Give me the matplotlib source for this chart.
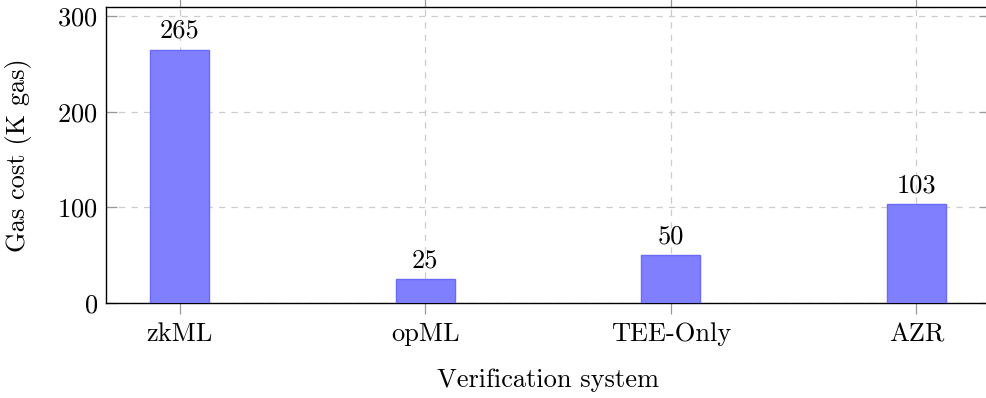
import matplotlib
matplotlib.use('Agg')
import matplotlib.pyplot as plt
import numpy as np

# ─── Data ─────────────────────────────────────────────────────────────
systems = ['zkML', 'opML', 'TEE-Only', 'AZR']
gas_cost = [265, 25, 50, 103]
y_ticks = [0, 100, 200, 300]

plt.rcParams.update({
    'font.family': 'serif',
    'font.serif': ['cmr10', 'DejaVu Serif'],
    'mathtext.fontset': 'cm',
    'axes.formatter.use_mathtext': True,
    'font.size': 19,
})

fig = plt.figure(figsize=(9.87, 3.98), dpi=100, facecolor='white')
# right spine sits just past the image edge, as in the reference
ax = fig.add_axes([106 / 987, 1 - 303 / 398, 884 / 987, 296.5 / 398])

x = np.arange(len(systems))
bars = ax.bar(x, gas_cost, width=0.24, color='#8080ff',
              edgecolor='#6a6aff', linewidth=1.0, zorder=3)

for xi, v in zip(x, gas_cost):
    ax.annotate(f"{v}", (xi, v), xytext=(0, 5), textcoords='offset points',
                ha='center', va='bottom', fontsize=19, zorder=4)

ax.set_xlim(-0.3, 3.3)
ax.set_ylim(0, 310)
ax.set_xticks(x)
ax.set_xticklabels(systems)
ax.set_yticks(y_ticks)

ax.grid(True, linestyle=(0, (5, 5)), color='#cccccc', linewidth=0.9, zorder=0)
ax.set_axisbelow(True)

ax.tick_params(axis='x', direction='out', length=8, width=0.9,
               color='#999999', top=True, pad=6)
ax.tick_params(axis='y', direction='in', length=8, width=0.9,
               color='#999999', right=True, pad=6)

for spine in ax.spines.values():
    spine.set_color('black')
    spine.set_linewidth(1.0)

ax.set_xlabel('Verification system', labelpad=16)
ax.set_ylabel('Gas cost (K gas)', labelpad=18)

fig.savefig('out.png', dpi=100, facecolor='white')
